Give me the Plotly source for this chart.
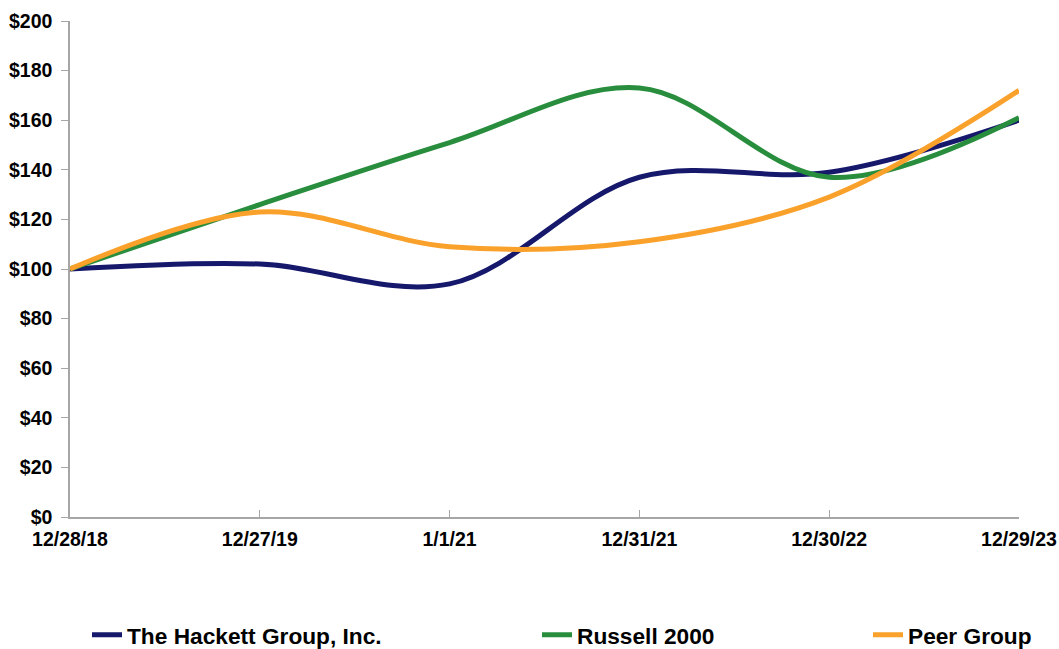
import plotly.graph_objects as go

dates = ["12/28/18", "12/27/19", "1/1/21", "12/31/21", "12/30/22", "12/29/23"]
hackett = [100, 102, 94, 137, 139, 160]
russell = [100, 126, 151, 173, 137, 161]
peer = [100, 123, 109, 111, 129, 172]
y_ticks = [0, 20, 40, 60, 80, 100, 120, 140, 160, 180, 200]
y_labels = ["$" + str(v) for v in y_ticks]

FONT = "Liberation Sans, Arial, sans-serif"
W, H = 1059, 649

fig = go.Figure()
series = [
    ("The Hackett Group, Inc.", hackett, "#16186B", "legend"),
    ("Russell 2000", russell, "#288E3D", "legend2"),
    ("Peer Group", peer, "#F9A12A", "legend3"),
]
for name, vals, color, lg in series:
    fig.add_trace(go.Scatter(
        x=list(range(len(dates))), y=vals, name=name, mode="lines",
        line=dict(color=color, width=5, shape="spline", smoothing=1.0),
        legend=lg,
    ))

legfont = dict(family=FONT, size=22.7, color="#000000", weight="bold")
def leg(xpx):
    return dict(x=xpx / W, xref="container", y=(H - 635) / H, yref="container",
                xanchor="left", yanchor="middle", font=legfont,
                bgcolor="rgba(0,0,0,0)", borderwidth=0)

tickfont = dict(family=FONT, size=19.5, color="#000000", weight="bold")

fig.update_layout(
    width=W, height=H,
    paper_bgcolor="white", plot_bgcolor="white",
    margin=dict(l=70, r=40, t=21, b=132, autoexpand=False),
    showlegend=True,
    legend=leg(87), legend2=leg(537), legend3=leg(868),
    font=dict(family=FONT, size=19, color="#000000"),
    xaxis=dict(
        range=[0, 5], tickmode="array", tickvals=list(range(len(dates))), ticktext=dates,
        tickangle=0, ticklabelstandoff=4,
        showline=True, linecolor="#A6A6A6", linewidth=1.5,
        ticks="inside", ticklen=7, tickcolor="#A6A6A6", tickwidth=1,
        showgrid=False, zeroline=False, tickfont=tickfont,
    ),
    yaxis=dict(
        range=[0, 200], tickmode="array", tickvals=y_ticks, ticktext=y_labels,
        ticklabelstandoff=5,
        showline=True, linecolor="#A6A6A6", linewidth=1.5,
        ticks="outside", ticklen=7, tickcolor="#A6A6A6", tickwidth=1,
        showgrid=False, zeroline=False, tickfont=tickfont,
    ),
)

fig.write_html(
    "out.html",
    config={"displayModeBar": False},
    post_script="document.body.style.margin='0';document.documentElement.style.overflow='hidden';",
)
